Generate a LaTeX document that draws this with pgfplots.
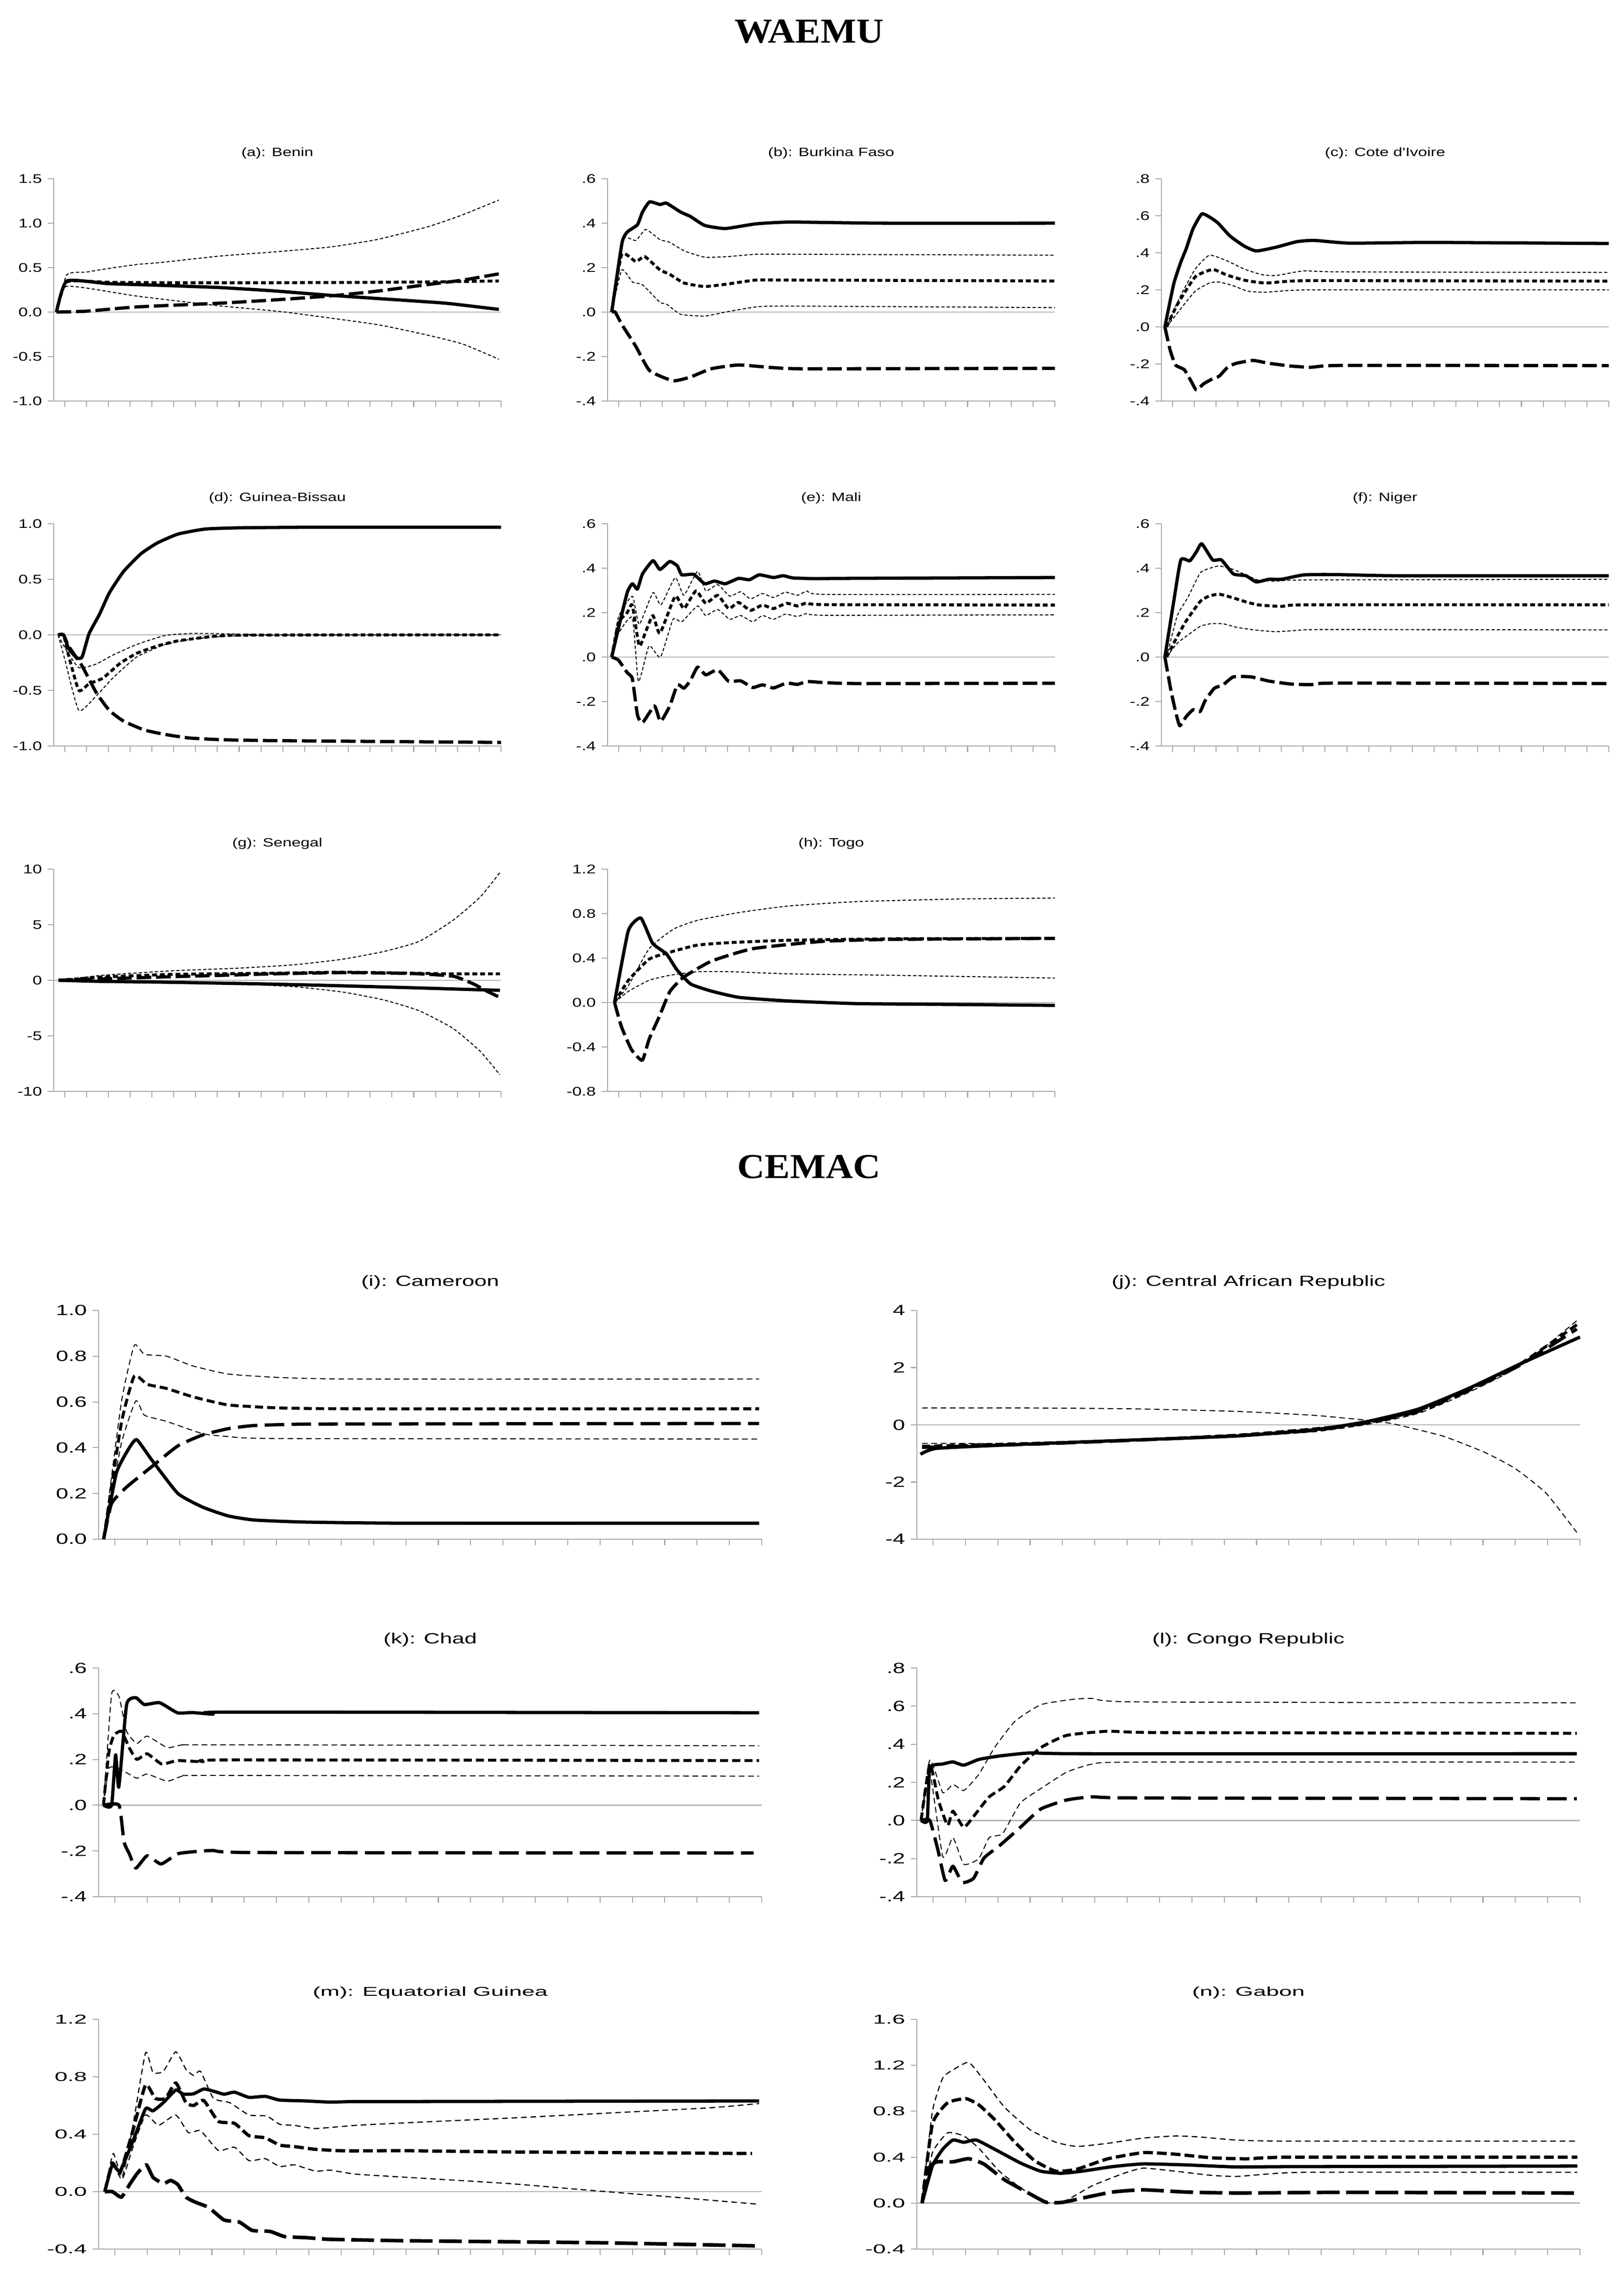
\documentclass[border=0pt]{standalone}
\usepackage{fontspec}
\usepackage{pgfplots}
\pgfplotsset{compat=1.18}
\newfontfamily\wfont[FakeStretch=1.35]{Liberation Sans}
\newfontfamily\cfont[FakeStretch=1.5]{Liberation Sans}
\newfontfamily\mfont[FakeStretch=1.8]{Liberation Sans}
\newfontfamily\tfont[FakeStretch=1.08]{Liberation Serif}
\tikzset{
  base/.style={black, line join=round, smooth, tension=0.3},
  sol/.style={base, line width=2pt},
  ldW/.style={base, line width=2pt, dash pattern=on 9pt off 3pt},
  mdW/.style={base, line width=1.8pt, dash pattern=on 3pt off 1.8pt},
  bdW/.style={base, line width=0.6pt, dash pattern=on 2pt off 1.3pt},
  ldC/.style={base, line width=2pt, dash pattern=on 12pt off 4.5pt},
  mdC/.style={base, line width=1.8pt, dash pattern=on 5pt off 2.5pt},
  bdC/.style={base, line width=0.6pt, dash pattern=on 3.5pt off 2.2pt},
  ldM/.style={base, line width=2.2pt, dash pattern=on 14pt off 4pt},
  mdM/.style={base, line width=2pt, dash pattern=on 6pt off 2.5pt},
  bdM/.style={base, line width=0.7pt, dash pattern=on 3.5pt off 2.3pt},
  zl/.style={gray!60, line width=0.8pt},
}
\pgfplotsset{
  irf/.style={scale only axis, xmin=0, xmax=41, axis lines*=left,
    axis line style={gray!70, line width=0.8pt},
    xtick={1,3,...,41}, xticklabels={},
    tick align=outside, major tick length=0.13cm,
    tick style={gray!70, line width=0.6pt},
    clip=false, anchor=south west},
  wst/.style={irf, width=9.66cm, height=4.80cm,
    tick label style={font=\wfont\fontsize{7.7}{8.5}\selectfont},
    title style={at={(0.5,1)}, anchor=center, yshift=0.34cm, font=\wfont\fontsize{7.4}{8.5}\selectfont}},
  cst/.style={irf, width=14.32cm, height=4.94cm,
    tick label style={font=\cfont\fontsize{9.1}{10}\selectfont},
    title style={at={(0.5,1)}, anchor=center, yshift=0.40cm, font=\cfont\fontsize{9.1}{10}\selectfont}},
  mst/.style={irf, width=14.32cm, height=4.96cm,
    tick label style={font=\mfont\fontsize{7.9}{9}\selectfont},
    title style={at={(0.5,1)}, anchor=center, yshift=0.37cm, font=\mfont\fontsize{7.9}{9}\selectfont}},
}
\begin{document}
\begin{tikzpicture}
\useasboundingbox (0,0) rectangle (35.06,49);
\node[font=\tfont\bfseries\fontsize{21.5}{24}\selectfont] at (17.47,48.32) {WAEMU};
\node[font=\tfont\bfseries\fontsize{21.5}{24}\selectfont] at (17.47,23.80) {CEMAC};

% (a) Benin
\begin{axis}[wst, at={(1.16cm,40.34cm)}, ymin=-1, ymax=1.5, ytick={-1,-0.5,0,0.5,1,1.5},
  yticklabels={-1.0,-0.5,0.0,0.5,1.0,1.5}, title={(a): Benin}]
\addplot[zl] coordinates {(0,0) (41,0)};
\addplot[bdW] coordinates {(0.25,0) (1.2,0.42) (3,0.45) (5,0.49) (7.6,0.535) (10,0.56) (15.2,0.63) (20,0.675) (25.2,0.73) (29.6,0.815) (34.3,0.96) (37.5,1.095) (40.8,1.26)};
\addplot[bdW] coordinates {(0.25,0) (1.2,0.29) (7.6,0.18) (15.2,0.07) (21.2,0.0) (29.6,-0.14) (34.3,-0.26) (37.5,-0.36) (40.8,-0.53)};
\addplot[mdW] coordinates {(0.25,0) (1.2,0.34) (5,0.335) (10,0.33) (20,0.33) (30,0.335) (35,0.34) (40.8,0.35)};
\addplot[ldW] coordinates {(0.25,0) (3,0.01) (7.6,0.058) (15.2,0.10) (20,0.135) (25.2,0.18) (29.6,0.235) (34.3,0.31) (37.5,0.36) (40.8,0.43)};
\addplot[sol] coordinates {(0.25,0) (1.2,0.35) (5,0.32) (10,0.30) (15.2,0.276) (20,0.24) (25.2,0.19) (30,0.15) (35.9,0.10) (40.8,0.03)};
\end{axis}

% (b) Burkina Faso
\begin{axis}[wst, at={(13.12cm,40.34cm)}, ymin=-0.4, ymax=0.6, ytick={-0.4,-0.2,0,0.2,0.4,0.6},
  yticklabels={-.4,-.2,.0,.2,.4,.6}, title={(b): Burkina Faso}]
\addplot[zl] coordinates {(0,0) (41,0)};
\addplot[bdW] coordinates {(0.38,0) (1.3,0.326) (2.6,0.322) (3.5,0.372) (4.8,0.326) (5.7,0.314) (7.0,0.276) (8.9,0.247) (11.1,0.25) (13.6,0.26) (18.3,0.26) (41,0.256)};
\addplot[bdW] coordinates {(0.38,0) (1.3,0.19) (2.3,0.135) (3.2,0.123) (4.8,0.044) (5.4,0.036) (6.7,-0.01) (8.9,-0.018) (10.8,0.0) (13.6,0.023) (16.75,0.027) (41,0.02)};
\addplot[mdW] coordinates {(0.38,0) (1.3,0.26) (2.6,0.227) (3.4,0.25) (4.8,0.19) (5.7,0.17) (7.0,0.131) (8.9,0.115) (11.1,0.127) (13.6,0.144) (16.75,0.144) (41,0.14)};
\addplot[ldW] coordinates {(0.38,0) (0.7,0) (1.3,-0.055) (2.6,-0.155) (3.85,-0.263) (6.0,-0.309) (7.6,-0.292) (9.5,-0.255) (12,-0.238) (15.2,-0.25) (18.3,-0.255) (41,-0.253)};
\addplot[sol] coordinates {(0.38,0) (1.32,0.31) (1.8,0.36) (2.74,0.393) (3.2,0.45) (3.85,0.496) (4.8,0.484) (5.4,0.49) (6.7,0.45) (7.6,0.43) (8.9,0.39) (10.8,0.376) (13.6,0.397) (16.75,0.405) (25,0.40) (41,0.40)};
\end{axis}

% (c) Cote d'Ivoire
\begin{axis}[wst, at={(25.08cm,40.34cm)}, ymin=-0.4, ymax=0.8, ytick={-0.4,-0.2,0,0.2,0.4,0.6,0.8},
  yticklabels={-.4,-.2,.0,.2,.4,.6,.8}, title={(c): Cote d'Ivoire}]
\addplot[zl] coordinates {(0,0) (41,0)};
\addplot[bdW] coordinates {(0.48,0) (1.8,0.173) (3.1,0.312) (4.4,0.387) (6,0.357) (7.6,0.312) (9.2,0.282) (10.5,0.277) (13,0.302) (16.6,0.297) (41,0.294)};
\addplot[bdW] coordinates {(0.48,0) (1.8,0.1) (3.1,0.193) (4.4,0.237) (5.3,0.242) (6.6,0.222) (7.9,0.193) (9.5,0.187) (11.8,0.197) (15,0.2) (41,0.2)};
\addplot[mdW] coordinates {(0.48,0) (1.45,0.12) (3.1,0.27) (4.7,0.31) (6,0.28) (7.6,0.252) (9.5,0.237) (11.8,0.247) (15,0.25) (41,0.247)};
\addplot[ldW] coordinates {(0.32,0) (0.8,-0.125) (1.3,-0.206) (2.1,-0.231) (2.75,-0.296) (3.2,-0.34) (3.9,-0.306) (4.7,-0.28) (5.3,-0.266) (6.1,-0.216) (6.9,-0.196) (8.4,-0.181) (9.8,-0.196) (11.8,-0.211) (13.7,-0.218) (16.6,-0.208) (41,-0.209)};
\addplot[sol] coordinates {(0.32,0) (1.13,0.232) (1.78,0.35) (2.26,0.42) (2.9,0.53) (3.7,0.61) (4.5,0.59) (5.2,0.56) (6.3,0.49) (7.6,0.436) (8.7,0.41) (10.5,0.43) (12.4,0.46) (14.0,0.467) (17.3,0.452) (24.7,0.456) (41,0.45)};
\end{axis}

% (d) Guinea-Bissau
\begin{axis}[wst, at={(1.16cm,32.89cm)}, ymin=-1, ymax=1, ytick={-1,-0.5,0,0.5,1},
  yticklabels={-1.0,-0.5,0.0,0.5,1.0}, title={(d): Guinea-Bissau}]
\addplot[zl] coordinates {(0,0) (41,0)};
\addplot[bdW] coordinates {(0.4,0) (1.04,-0.12) (2.3,-0.295) (3.9,-0.263) (5.4,-0.183) (7.6,-0.087) (10.2,-0.006) (12.7,0.013) (15.5,0.01) (20.2,0) (41,0)};
\addplot[bdW] coordinates {(0.4,0) (1.04,-0.23) (2.3,-0.68) (3.9,-0.55) (5.4,-0.39) (7.6,-0.2) (10.2,-0.087) (12.7,-0.038) (15.5,-0.014) (20.2,-0.003) (41,0)};
\addplot[mdW] coordinates {(0.4,0) (0.9,0) (1.35,-0.18) (2.3,-0.5) (3.24,-0.44) (4.5,-0.39) (6.1,-0.255) (7.6,-0.167) (9.5,-0.1) (11.4,-0.054) (13.9,-0.022) (17.1,-0.003) (41,0)};
\addplot[ldW] coordinates {(0.4,0) (0.9,0) (1.35,-0.1) (2.6,-0.28) (3.9,-0.52) (5.1,-0.68) (6.4,-0.776) (8.3,-0.856) (10.2,-0.896) (12.4,-0.928) (15.5,-0.944) (20.2,-0.952) (41,-0.968)};
\addplot[sol] coordinates {(0.4,0) (0.9,0) (1.35,-0.12) (2.1,-0.207) (2.6,-0.2) (3.24,0.01) (4.2,0.186) (5.1,0.378) (6.4,0.57) (8,0.73) (9.5,0.827) (11.4,0.907) (13.9,0.952) (17.1,0.963) (23.4,0.968) (41,0.968)};
\end{axis}

% (e) Mali
\begin{axis}[wst, at={(13.12cm,32.89cm)}, ymin=-0.4, ymax=0.6, ytick={-0.4,-0.2,0,0.2,0.4,0.6},
  yticklabels={-.4,-.2,.0,.2,.4,.6}, title={(e): Mali}]
\addplot[zl] coordinates {(0,0) (41,0)};
\addplot[bdW] coordinates {(0.38,0) (1.0,0.18) (2.27,0.274) (2.9,0.147) (4.16,0.29) (4.9,0.235) (6.2,0.358) (7,0.278) (8.25,0.386) (9,0.298) (10.1,0.326) (11.2,0.274) (12.2,0.294) (13.1,0.262) (14.2,0.286) (15.2,0.268) (16.3,0.292) (17.4,0.278) (18.3,0.297) (19.9,0.282) (41,0.282)};
\addplot[bdW] coordinates {(0.38,0) (1.0,0.106) (2.27,0.178) (2.83,-0.11) (3.8,0.05) (4.85,0.0) (6,0.17) (6.8,0.159) (8.25,0.23) (9,0.187) (10.1,0.214) (11.2,0.17) (12.2,0.187) (13.3,0.159) (14.2,0.187) (15.2,0.17) (16.3,0.193) (17.4,0.183) (18.3,0.196) (19.9,0.188) (41,0.19)};
\addplot[mdW] coordinates {(0.38,0) (1.0,0.154) (1.8,0.2) (2.27,0.234) (2.9,0.05) (3.5,0.115) (4.16,0.187) (4.8,0.107) (6.2,0.274) (7,0.218) (8.1,0.298) (9.0,0.242) (10.1,0.278) (11.1,0.218) (12,0.246) (13.1,0.21) (14.2,0.234) (15.2,0.218) (16.4,0.242) (17.4,0.23) (18.3,0.244) (19.9,0.236) (41,0.234)};
\addplot[ldW] coordinates {(0.38,0) (1,-0.014) (1.8,-0.07) (2.27,-0.097) (2.74,-0.26) (3.2,-0.296) (4.3,-0.22) (4.85,-0.29) (5.7,-0.22) (6.4,-0.125) (7,-0.14) (7.6,-0.105) (8.25,-0.045) (9,-0.08) (10.1,-0.057) (11.1,-0.109) (12.2,-0.107) (13.3,-0.137) (14.2,-0.125) (15.2,-0.139) (16.4,-0.117) (17.4,-0.123) (18.3,-0.11) (19.9,-0.115) (23,-0.119) (41,-0.118)};
\addplot[sol] coordinates {(0.38,0) (1.0,0.13) (1.8,0.29) (2.27,0.33) (2.74,0.306) (3.2,0.374) (4.16,0.434) (4.8,0.394) (5.7,0.43) (6.4,0.41) (6.8,0.37) (7.9,0.372) (8.9,0.33) (9.8,0.342) (10.8,0.33) (12,0.354) (13,0.348) (13.9,0.37) (15.2,0.358) (16.1,0.366) (17,0.356) (19,0.353) (21.5,0.354) (41,0.358)};
\end{axis}

% (f) Niger
\begin{axis}[wst, at={(25.08cm,32.89cm)}, ymin=-0.4, ymax=0.6, ytick={-0.4,-0.2,0,0.2,0.4,0.6},
  yticklabels={-.4,-.2,.0,.2,.4,.6}, title={(f): Niger}]
\addplot[zl] coordinates {(0,0) (41,0)};
\addplot[bdW] coordinates {(0.48,0) (1.45,0.186) (2.4,0.266) (3.55,0.378) (4.35,0.398) (5.3,0.41) (6.6,0.394) (7.9,0.366) (8.9,0.346) (10.5,0.342) (13.4,0.347) (41,0.35)};
\addplot[bdW] coordinates {(0.48,0) (1.45,0.062) (2.4,0.098) (3.55,0.138) (4.5,0.15) (5.65,0.15) (6.9,0.134) (8.55,0.122) (10.5,0.114) (12.4,0.12) (15,0.124) (41,0.122)};
\addplot[mdW] coordinates {(0.48,0) (1.3,0.078) (2.26,0.162) (3.55,0.25) (4.35,0.274) (5.3,0.283) (6.6,0.266) (7.9,0.246) (9,0.234) (11.1,0.228) (13.4,0.235) (41,0.235)};
\addplot[ldW] coordinates {(0.32,0) (0.87,-0.149) (1.3,-0.245) (1.68,-0.309) (2.26,-0.269) (2.9,-0.237) (3.55,-0.245) (4.0,-0.197) (4.84,-0.141) (5.65,-0.125) (6.6,-0.089) (8.2,-0.089) (9.85,-0.108) (11.8,-0.121) (13.7,-0.124) (16,-0.117) (41,-0.119)};
\addplot[sol] coordinates {(0.32,0) (1.13,0.25) (1.78,0.437) (2.6,0.433) (3.2,0.473) (3.7,0.51) (4.7,0.437) (5.5,0.437) (6.6,0.374) (7.75,0.366) (8.7,0.338) (9.85,0.35) (11,0.35) (13.1,0.37) (16.3,0.371) (21.5,0.366) (41,0.366)};
\end{axis}

% (g) Senegal
\begin{axis}[wst, at={(1.16cm,25.43cm)}, ymin=-10, ymax=10, ytick={-10,-5,0,5,10},
  yticklabels={-10,-5,0,5,10}, title={(g): Senegal}]
\addplot[zl] coordinates {(0,0) (41,0)};
\addplot[bdW] coordinates {(0.44,0) (4.5,0.45) (10.8,0.85) (17.1,1.1) (22.1,1.4) (26.5,1.9) (30.3,2.6) (33.5,3.5) (36.6,5.4) (39.1,7.5) (40.9,9.7)};
\addplot[bdW] coordinates {(0.44,0) (4.5,-0.1) (10.8,-0.27) (17.1,-0.35) (22.1,-0.58) (26.5,-1.06) (30.3,-1.78) (33.5,-2.74) (36.6,-4.33) (39.1,-6.4) (40.9,-8.5)};
\addplot[mdW] coordinates {(0.44,0) (4.5,0.29) (10.8,0.53) (20.25,0.64) (26.5,0.73) (32.8,0.64) (36.6,0.58) (40.9,0.58)};
\addplot[ldW] coordinates {(0.44,0) (4.5,0.13) (10.8,0.32) (20.25,0.58) (26.5,0.69) (32.8,0.61) (36.6,0.37) (38.5,-0.34) (39.7,-0.98) (40.9,-1.54)};
\addplot[sol] coordinates {(0.44,0) (4.5,-0.1) (10.8,-0.18) (20.25,-0.35) (26.5,-0.5) (32.8,-0.67) (37.9,-0.82) (40.9,-0.9)};
\end{axis}

% (h) Togo
\begin{axis}[wst, at={(13.12cm,25.43cm)}, ymin=-0.8, ymax=1.2, ytick={-0.8,-0.4,0,0.4,0.8,1.2},
  yticklabels={-0.8,-0.4,0.0,0.4,0.8,1.2}, title={(h): Togo}]
\addplot[zl] coordinates {(0,0) (41,0)};
\addplot[bdW] coordinates {(0.64,0) (1.9,0.15) (3.81,0.485) (6.04,0.66) (8.26,0.74) (12.08,0.81) (16.53,0.868) (22.9,0.908) (32.4,0.932) (41,0.94)};
\addplot[bdW] coordinates {(0.64,0) (1.9,0.1) (3.81,0.2) (5.72,0.245) (8.26,0.277) (11.44,0.277) (16.53,0.258) (26.06,0.245) (41,0.22)};
\addplot[mdW] coordinates {(0.64,0) (1.9,0.198) (3.81,0.39) (5.72,0.453) (8.26,0.517) (11.44,0.54) (16.53,0.56) (26.06,0.573) (41,0.577)};
\addplot[ldW] coordinates {(0.64,0) (1.27,-0.217) (2.2,-0.425) (3.18,-0.52) (3.81,-0.33) (4.77,-0.12) (5.72,0.1) (7.0,0.23) (9.54,0.373) (13.35,0.485) (19.7,0.55) (26.06,0.568) (41,0.577)};
\addplot[sol] coordinates {(0.64,0) (1.9,0.645) (3.05,0.76) (4.13,0.533) (5.4,0.437) (6.36,0.294) (7.63,0.166) (9.54,0.102) (12.08,0.046) (16.53,0.014) (22.9,-0.01) (32.4,-0.018) (41,-0.026)};
\end{axis}

% (i) Cameroon
\begin{axis}[cst, at={(2.13cm,15.76cm)}, ymin=0, ymax=1, ytick={0,0.2,0.4,0.6,0.8,1},
  yticklabels={0.0,0.2,0.4,0.6,0.8,1.0}, title={(i): Cameroon}]
\addplot[bdC] coordinates {(0.31,0) (1.4,0.596) (2.2,0.847) (2.83,0.808) (4.2,0.8) (5.8,0.758) (8,0.722) (11.15,0.707) (15.9,0.7) (40.84,0.7)};
\addplot[bdC] coordinates {(0.31,0) (1.4,0.417) (2.3,0.605) (2.83,0.542) (4.2,0.515) (6.44,0.461) (8,0.449) (11.15,0.44) (40.84,0.438)};
\addplot[mdC] coordinates {(0.31,0) (1.4,0.506) (2.2,0.713) (3.0,0.677) (4.2,0.659) (5.8,0.623) (8,0.587) (11.15,0.574) (15.9,0.57) (40.84,0.57)};
\addplot[ldC] coordinates {(0.31,0) (0.8,0.156) (1.73,0.228) (3.3,0.318) (4.9,0.408) (6.44,0.456) (8,0.483) (9.6,0.497) (12.7,0.503) (19,0.504) (40.84,0.506)};
\addplot[sol] coordinates {(0.31,0) (1.1,0.29) (1.9,0.4) (2.36,0.435) (3.3,0.345) (4.9,0.2) (6.44,0.14) (8,0.102) (9.6,0.084) (12.7,0.075) (19,0.07) (40.84,0.07)};
\end{axis}

% (j) Central African Republic
\begin{axis}[cst, at={(19.80cm,15.76cm)}, ymin=-4, ymax=4, ytick={-4,-2,0,2,4},
  yticklabels={-4,-2,0,2,4}, title={(j): Central African Republic}]
\addplot[zl] coordinates {(0,0) (41,0)};
\addplot[bdC] coordinates {(0.32,0.59) (7,0.59) (13.4,0.56) (19.8,0.47) (24.6,0.33) (27.8,0.16) (29.4,0.04) (32.5,-0.39) (35.1,-0.96) (37,-1.53) (38.9,-2.39) (40.8,-3.76)};
\addplot[bdC] coordinates {(0.32,-0.65) (7,-0.65) (13.4,-0.56) (19.8,-0.42) (24.6,-0.24) (27.8,0.01) (31,0.4) (34.1,1.13) (37.3,2.06) (40.8,3.64)};
\addplot[mdC] coordinates {(0.32,-0.75) (7,-0.65) (13.4,-0.53) (19.8,-0.36) (24.6,-0.14) (27.8,0.07) (31,0.5) (34.1,1.23) (37.3,2.13) (40.8,3.5)};
\addplot[ldC] coordinates {(0.32,-0.79) (7,-0.68) (13.4,-0.54) (19.8,-0.38) (24.6,-0.19) (27.8,0.07) (31,0.47) (34.1,1.2) (37.3,2.09) (40.8,3.35)};
\addplot[sol] coordinates {(0.22,-1.03) (1.28,-0.82) (7,-0.67) (13.4,-0.53) (19.8,-0.39) (24.6,-0.17) (27.8,0.11) (31,0.55) (34.1,1.27) (37.3,2.13) (41,3.07)};
\end{axis}

% (k) Chad
\begin{axis}[cst, at={(2.13cm,8.04cm)}, ymin=-0.4, ymax=0.6, ytick={-0.4,-0.2,0,0.2,0.4,0.6},
  yticklabels={-.4,-.2,.0,.2,.4,.6}, title={(k): Chad}]
\addplot[zl] coordinates {(0,0) (41,0)};
\addplot[bdC] coordinates {(0.3,0) (0.8,0.484) (1.26,0.475) (1.73,0.323) (2.36,0.27) (3,0.302) (4.24,0.252) (5.2,0.264) (7.07,0.264) (40.84,0.26)};
\addplot[bdC] coordinates {(0.3,0) (0.63,0.16) (1.1,0.164) (1.73,0.142) (2.36,0.118) (3,0.136) (4.24,0.105) (5.2,0.127) (7.07,0.13) (40.84,0.127)};
\addplot[mdC] coordinates {(0.3,0) (0.63,0.23) (0.94,0.305) (1.41,0.323) (1.9,0.25) (2.36,0.2) (3,0.225) (3.9,0.18) (4.87,0.195) (6.44,0.19) (8,0.198) (40.84,0.195)};
\addplot[ldC] coordinates {(0.3,0) (1.26,0) (1.57,-0.16) (1.9,-0.213) (2.3,-0.275) (3,-0.221) (3.86,-0.257) (4.87,-0.213) (5.8,-0.204) (7.07,-0.198) (9.6,-0.207) (40.5,-0.209)};
\addplot[sol] coordinates {(0.3,0) (0.8,0) (1.05,0.22) (1.25,0.08) (1.73,0.44) (2.3,0.47) (2.83,0.44) (3.77,0.448) (4.87,0.404) (5.8,0.405) (7.07,0.398) (8,0.407) (40.84,0.404)};
\end{axis}

% (l) Congo Republic
\begin{axis}[cst, at={(19.80cm,8.04cm)}, ymin=-0.4, ymax=0.8, ytick={-0.4,-0.2,0,0.2,0.4,0.6,0.8},
  yticklabels={-.4,-.2,.0,.2,.4,.6,.8}, title={(l): Congo Republic}]
\addplot[zl] coordinates {(0,0) (41,0)};
\addplot[bdC] coordinates {(0.26,0) (0.8,0.317) (1.6,0.146) (2.23,0.189) (2.9,0.157) (3.83,0.242) (4.8,0.382) (6.06,0.52) (7.66,0.607) (9.6,0.635) (10.85,0.64) (13.4,0.622) (40.8,0.617)};
\addplot[bdC] coordinates {(0.26,0) (0.8,0.25) (1.6,-0.19) (2.23,-0.09) (2.9,-0.23) (3.83,-0.2) (4.47,-0.09) (5.3,-0.069) (6.4,0.092) (7.66,0.167) (9.25,0.253) (10.85,0.296) (13.4,0.306) (40.8,0.306)};
\addplot[mdC] coordinates {(0.26,0) (0.8,0.296) (1.34,0.103) (1.9,-0.026) (2.23,0.049) (2.9,-0.036) (3.67,0.039) (4.47,0.124) (5.4,0.178) (6.4,0.285) (7.66,0.382) (9.25,0.446) (11.8,0.468) (15,0.461) (40.8,0.457)};
\addplot[ldC] coordinates {(0.26,0) (0.8,0) (1.3,-0.155) (1.75,-0.315) (2.23,-0.24) (2.8,-0.325) (3.5,-0.304) (4.15,-0.197) (5.1,-0.133) (6.4,-0.036) (7.66,0.06) (9.25,0.107) (10.85,0.124) (13.4,0.118) (40.8,0.114)};
\addplot[sol] coordinates {(0.26,0) (0.64,0) (0.8,0.274) (1.6,0.296) (2.23,0.307) (2.9,0.29) (3.83,0.32) (5.1,0.338) (7,0.354) (10.2,0.35) (40.8,0.35)};
\end{axis}

% (m) Equatorial Guinea
\begin{axis}[mst, at={(2.13cm,0.43cm)}, ymin=-0.4, ymax=1.2, ytick={-0.4,0,0.4,0.8,1.2},
  yticklabels={-0.4,0.0,0.4,0.8,1.2}, title={(m): Equatorial Guinea}]
\addplot[zl] coordinates {(0,0) (41,0)};
\addplot[bdM] coordinates {(0.38,0) (0.9,0.266) (1.45,0.1) (2.1,0.447) (2.9,0.968) (3.36,0.83) (4,0.838) (4.77,0.975) (5.4,0.852) (5.87,0.81) (6.3,0.838) (7.1,0.65) (8.1,0.62) (9.3,0.534) (10.4,0.527) (11.2,0.469) (12.1,0.462) (13.4,0.44) (15.9,0.462) (19.04,0.48) (25.3,0.512) (31.6,0.548) (37.9,0.585) (40.84,0.614)};
\addplot[bdM] coordinates {(0.38,0) (0.9,0.187) (1.45,0.085) (2.1,0.303) (2.9,0.534) (3.7,0.462) (4.77,0.534) (5.55,0.411) (6.3,0.425) (7.4,0.287) (8.4,0.31) (9.3,0.216) (10.3,0.23) (11.2,0.175) (12.1,0.187) (13.4,0.143) (14.3,0.15) (15.9,0.122) (19.04,0.1) (25.3,0.057) (30,0.013) (34.7,-0.03) (40.84,-0.088)};
\addplot[mdM] coordinates {(0.38,0) (0.85,0.2) (1.32,0.13) (2.1,0.418) (2.9,0.744) (3.5,0.65) (4.14,0.65) (4.77,0.758) (5.4,0.62) (5.87,0.6) (6.5,0.635) (7.4,0.49) (8.4,0.476) (9.3,0.39) (10.3,0.375) (11.2,0.324) (12.1,0.314) (13.4,0.295) (15.3,0.284) (19.04,0.285) (25.3,0.277) (40.4,0.266)};
\addplot[ldM] coordinates {(0.38,0) (0.85,0) (1.41,-0.038) (1.95,0.056) (2.4,0.129) (2.95,0.187) (3.36,0.1) (4,0.056) (4.45,0.078) (4.9,0.049) (5.4,-0.038) (6,-0.074) (6.8,-0.11) (7.75,-0.197) (8.7,-0.212) (9.5,-0.27) (10.6,-0.277) (11.5,-0.313) (12.8,-0.32) (14.3,-0.332) (19.04,-0.342) (25.3,-0.349) (31.6,-0.357) (40.84,-0.378)};
\addplot[sol] coordinates {(0.38,0) (0.85,0.187) (1.32,0.143) (2.1,0.346) (2.9,0.577) (3.36,0.563) (4,0.62) (4.77,0.708) (5.24,0.679) (5.87,0.682) (6.5,0.715) (7.1,0.7) (7.75,0.679) (8.4,0.693) (9.3,0.657) (10.3,0.664) (11.2,0.638) (12.8,0.632) (14.3,0.624) (15.9,0.628) (19.04,0.628) (40.84,0.632)};
\end{axis}

% (n) Gabon
\begin{axis}[mst, at={(19.80cm,0.43cm)}, ymin=-0.4, ymax=1.6, ytick={-0.4,0,0.4,0.8,1.2,1.6},
  yticklabels={-0.4,0.0,0.4,0.8,1.2,1.6}, title={(n): Gabon}]
\addplot[zl] coordinates {(0,0) (41,0)};
\addplot[bdM] coordinates {(0.32,0) (0.96,0.8) (1.6,1.09) (2.23,1.16) (3.2,1.226) (4.15,1.07) (5.4,0.838) (7.0,0.639) (8.6,0.53) (9.9,0.494) (11.8,0.521) (14,0.567) (16,0.585) (17.5,0.576) (19.8,0.549) (23,0.54) (40.84,0.54)};
\addplot[bdM] coordinates {(0.32,0) (0.96,0.44) (1.9,0.612) (2.9,0.585) (3.83,0.478) (5.1,0.278) (6.4,0.134) (7.66,0.025) (8.3,0.0) (9.25,0.025) (10.85,0.152) (12.8,0.26) (14,0.305) (16,0.278) (18.2,0.242) (19.8,0.233) (22.3,0.26) (24.6,0.269) (40.84,0.269)};
\addplot[mdM] coordinates {(0.32,0) (0.96,0.69) (1.9,0.874) (3.03,0.91) (3.83,0.856) (4.8,0.729) (6.06,0.53) (7.3,0.368) (8.6,0.278) (9.9,0.296) (11.8,0.386) (14,0.44) (16,0.426) (18.2,0.395) (20.4,0.386) (23,0.4) (40.84,0.4)};
\addplot[ldM] coordinates {(0.32,0) (0.8,0.314) (1.28,0.36) (2.23,0.36) (3.2,0.387) (4.15,0.34) (5.4,0.205) (7.0,0.08) (8,0.007) (9,0.007) (10.2,0.043) (12.1,0.097) (14,0.116) (16.6,0.097) (19.8,0.088) (26.2,0.094) (40.84,0.088)};
\addplot[sol] coordinates {(0.32,0) (0.96,0.325) (1.6,0.47) (2.23,0.55) (2.9,0.53) (3.67,0.55) (4.8,0.47) (6.4,0.35) (7.66,0.278) (8.9,0.26) (10.2,0.278) (12.1,0.318) (14,0.342) (16.6,0.333) (19.8,0.315) (23,0.318) (40.84,0.323)};
\end{axis}
\end{tikzpicture}
\end{document}
